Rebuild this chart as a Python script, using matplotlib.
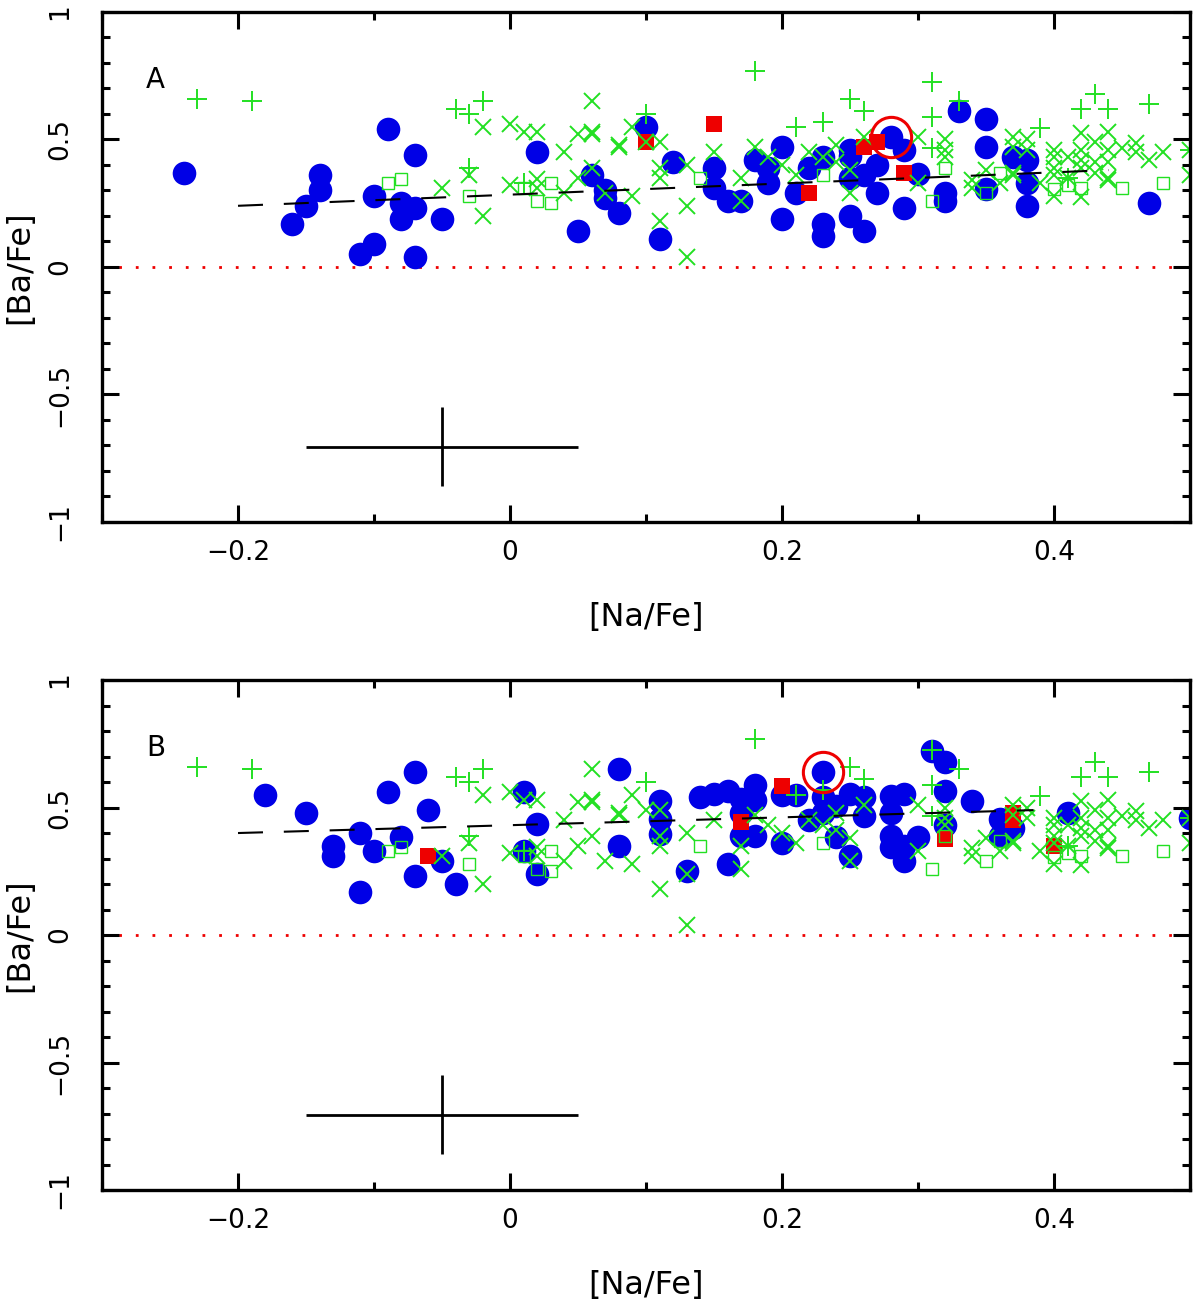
import matplotlib
matplotlib.use("Agg")
import matplotlib.pyplot as plt
import numpy as np

# comparison sample (same in both panels)
plus_na = [-0.23, -0.19, -0.04, -0.03, -0.02, -0.03, 0.01, 0.10, 0.18, 0.21, 0.23, 0.25,
           0.26, 0.31, 0.31, 0.31, 0.33, 0.39, 0.41, 0.42, 0.43, 0.44, 0.47, 0.50]
plus_ba = [0.66, 0.65, 0.62, 0.60, 0.65, 0.39, 0.33, 0.60, 0.77, 0.55, 0.57, 0.66,
           0.61, 0.725, 0.59, 0.465, 0.65, 0.545, 0.35, 0.62, 0.68, 0.62, 0.64, 0.46]

cross_na = [-0.02, -0.03, -0.05, -0.02, 0.00, 0.01, 0.02, 0.00, 0.02, 0.02, 0.04, 0.04,
            0.05, 0.05, 0.06, 0.06, 0.06, 0.06, 0.07, 0.08, 0.08, 0.09, 0.09, 0.10,
            0.11, 0.11, 0.11, 0.11, 0.13, 0.13, 0.13, 0.15, 0.17, 0.17, 0.18, 0.19,
            0.20, 0.21, 0.22, 0.23, 0.24, 0.24, 0.25, 0.25, 0.26, 0.30, 0.30, 0.32,
            0.32, 0.32, 0.34, 0.34, 0.35, 0.36, 0.37, 0.37, 0.37, 0.37, 0.38, 0.38,
            0.39, 0.40, 0.40, 0.40, 0.40, 0.40, 0.41, 0.41, 0.42, 0.42, 0.42, 0.42,
            0.42, 0.43, 0.43, 0.43, 0.44, 0.44, 0.44, 0.44, 0.44, 0.45, 0.46, 0.46,
            0.47, 0.48, 0.50, 0.50]
cross_ba = [0.55, 0.36, 0.31, 0.20, 0.56, 0.53, 0.53, 0.32, 0.345, 0.31, 0.45, 0.29,
            0.52, 0.35, 0.65, 0.53, 0.52, 0.39, 0.29, 0.47, 0.48, 0.55, 0.28, 0.49,
            0.49, 0.39, 0.35, 0.18, 0.40, 0.24, 0.04, 0.45, 0.26, 0.35, 0.47, 0.43,
            0.40, 0.36, 0.45, 0.43, 0.48, 0.41, 0.29, 0.38, 0.51, 0.51, 0.33, 0.50,
            0.46, 0.43, 0.34, 0.31, 0.38, 0.33, 0.51, 0.47, 0.36, 0.37, 0.50, 0.46,
            0.33, 0.46, 0.43, 0.39, 0.36, 0.28, 0.43, 0.35, 0.525, 0.46, 0.42, 0.39,
            0.275, 0.49, 0.41, 0.37, 0.53, 0.46, 0.41, 0.35, 0.34, 0.465, 0.485, 0.45,
            0.42, 0.45, 0.46, 0.36]

sq_na = [-0.09, -0.08, -0.03, 0.01, 0.02, 0.03, 0.03, 0.14, 0.23, 0.31, 0.32, 0.35,
         0.36, 0.40, 0.41, 0.42, 0.45, 0.48]
sq_ba = [0.33, 0.345, 0.28, 0.31, 0.26, 0.33, 0.25, 0.35, 0.36, 0.26, 0.39, 0.29,
         0.37, 0.305, 0.32, 0.31, 0.31, 0.33]

# panel A sample
a_na = [-0.24, -0.16, -0.15, -0.14, -0.14, -0.10, -0.10, -0.11, -0.09, -0.08, -0.08,
        -0.07, -0.07, -0.07, -0.05, 0.02, 0.05, 0.06, 0.07, 0.07, 0.08, 0.10, 0.11,
        0.12, 0.15, 0.15, 0.16, 0.17, 0.18, 0.19, 0.19, 0.20, 0.20, 0.21, 0.22, 0.23,
        0.23, 0.23, 0.25, 0.25, 0.25, 0.25, 0.26, 0.26, 0.27, 0.27, 0.28, 0.29, 0.29,
        0.30, 0.32, 0.32, 0.33, 0.35, 0.35, 0.35, 0.37, 0.38, 0.38, 0.38, 0.47]
a_ba = [0.37, 0.17, 0.24, 0.36, 0.30, 0.28, 0.09, 0.05, 0.54, 0.25, 0.19,
        0.44, 0.23, 0.04, 0.19, 0.45, 0.14, 0.36, 0.30, 0.27, 0.21, 0.55, 0.11,
        0.41, 0.39, 0.31, 0.26, 0.26, 0.42, 0.39, 0.33, 0.47, 0.19, 0.29, 0.39, 0.43,
        0.17, 0.12, 0.46, 0.435, 0.35, 0.20, 0.14, 0.36, 0.40, 0.29, 0.51, 0.46, 0.23,
        0.365, 0.29, 0.26, 0.61, 0.58, 0.47, 0.305, 0.43, 0.42, 0.33, 0.24, 0.25]
a_red_na = [0.10, 0.15, 0.22, 0.26, 0.27, 0.29]
a_red_ba = [0.49, 0.56, 0.29, 0.47, 0.49, 0.37]
a_mark = (0.28, 0.51)
a_fit = ([-0.20, 0.44], [0.24, 0.38])

# panel B sample
b_na = [-0.18, -0.15, -0.13, -0.13, -0.11, -0.11, -0.10, -0.09, -0.08, -0.07, -0.07,
        -0.06, -0.05, -0.04, 0.01, 0.01, 0.02, 0.02, 0.08, 0.08, 0.11, 0.11, 0.11,
        0.13, 0.14, 0.15, 0.16, 0.16, 0.17, 0.17, 0.17, 0.18, 0.18, 0.18, 0.20, 0.20,
        0.21, 0.22, 0.23, 0.23, 0.23, 0.24, 0.24, 0.25, 0.25, 0.26, 0.26, 0.28, 0.28,
        0.28, 0.28, 0.29, 0.29, 0.29, 0.30, 0.31, 0.32, 0.32, 0.32, 0.34, 0.36, 0.36,
        0.37, 0.41, 0.50]
b_ba = [0.55, 0.48, 0.35, 0.31, 0.40, 0.17, 0.33, 0.56, 0.385, 0.64, 0.23,
        0.49, 0.29, 0.20, 0.56, 0.33, 0.435, 0.24, 0.65, 0.35, 0.525, 0.455, 0.395,
        0.25, 0.54, 0.555, 0.565, 0.28, 0.535, 0.48, 0.39, 0.53, 0.59, 0.39, 0.55, 0.36,
        0.55, 0.45, 0.64, 0.54, 0.48, 0.505, 0.385, 0.555, 0.31, 0.54, 0.465, 0.545, 0.48,
        0.39, 0.345, 0.555, 0.35, 0.29, 0.385, 0.72, 0.68, 0.565, 0.43, 0.525, 0.455, 0.39,
        0.42, 0.48, 0.46]
b_red_na = [-0.06, 0.17, 0.20, 0.32, 0.37, 0.37, 0.40]
b_red_ba = [0.31, 0.445, 0.585, 0.375, 0.48, 0.45, 0.35]
b_mark = (0.23, 0.64)
b_fit = ([-0.20, 0.385], [0.40, 0.49])

# typical error bar
err_na, err_ba = -0.05, -0.705
err_dna, err_dba = 0.10, 0.155

GREEN = "#22e022"
BLUE = "#0000e6"
RED = "#ee0000"

plt.rcParams["font.family"] = ["DejaVu Sans"]


def draw_panel(ax, na, ba, red_na, red_ba, mark, fit, letter):
    ax.axhline(0, color=RED, lw=2, ls=(0, (1, 5)), zorder=1)
    ax.plot(plus_na, plus_ba, ls="none", marker="+", ms=15, mew=1.4, color=GREEN, zorder=2)
    ax.plot(cross_na, cross_ba, ls="none", marker="x", ms=12, mew=1.4, color=GREEN, zorder=2)
    ax.plot(sq_na, sq_ba, ls="none", marker="s", ms=8, mew=1.0, mfc="none", mec=GREEN, zorder=2)
    ax.plot(na, ba, ls="none", marker="o", ms=17, color=BLUE, mew=0, zorder=1.5)
    ax.plot(red_na, red_ba, ls="none", marker="s", ms=11, color=RED, mew=0, zorder=1.6)
    ax.plot([mark[0]], [mark[1]], ls="none", marker="o", ms=29, mfc="none", mec=RED,
            mew=2.2, zorder=3)
    ax.plot(fit[0], fit[1], color="black", lw=1.5, dashes=(12, 10), zorder=3)
    ax.errorbar([err_na], [err_ba], xerr=err_dna, yerr=err_dba, fmt="none",
                ecolor="black", elinewidth=2, capsize=0)
    ax.text(0.049, 0.867, letter, transform=ax.transAxes, fontsize=20,
            ha="center", va="center")

    ax.set_xlim(-0.3, 0.5)
    ax.set_ylim(-1, 1)
    ax.set_xticks([-0.2, 0, 0.2, 0.4])
    ax.set_xticklabels(["\u22120.2", "0", "0.2", "0.4"])
    ax.set_xticks(np.arange(-0.3, 0.51, 0.1), minor=True)
    ax.set_yticks([-1, -0.5, 0, 0.5, 1])
    ax.set_yticklabels(["\u22121", "\u22120.5", "0", "0.5", "1"], rotation=90, va="center")
    ax.set_yticks(np.arange(-1, 1.01, 0.1), minor=True)
    ax.tick_params(which="both", direction="in", top=True, right=True, width=2.2)
    ax.tick_params(which="major", length=12, labelsize=19)
    ax.tick_params(which="minor", length=6)
    ax.tick_params(axis="x", which="major", pad=13)
    ax.tick_params(axis="y", which="major", pad=21)
    for s in ax.spines.values():
        s.set_linewidth(2.4)
    ax.set_xlabel("[Na/Fe]", fontsize=23, labelpad=26)
    ax.set_ylabel("[Ba/Fe]", fontsize=23, labelpad=8)


fig = plt.figure(figsize=(12, 13.04), dpi=100)
ax_a = fig.add_axes([0.085, 0.5997, 0.9067, 0.3911])
ax_b = fig.add_axes([0.085, 0.0874, 0.9067, 0.3911])
draw_panel(ax_a, a_na, a_ba, a_red_na, a_red_ba, a_mark, a_fit, "A")
draw_panel(ax_b, b_na, b_ba, b_red_na, b_red_ba, b_mark, b_fit, "B")

fig.savefig("out.png", dpi=100)
